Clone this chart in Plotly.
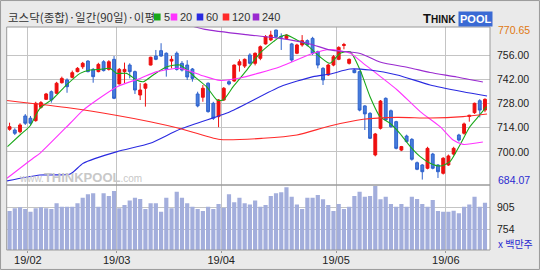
import plotly.graph_objects as go

# ---------------- data ----------------
days = list(range(92))
opens = [713.1, 712.7, 711.7, 720.8, 719.5, 718.1, 725.8, 730.4, 734.8, 733.9,
         740.0, 741.6, 743.1, 746.4, 749.2, 752.5, 747.7, 746.4, 752.1, 747.7,
         753.5, 739.3, 746.4, 750.2, 746.4, 732.9, 736.8, 750.2, 755.4, 758.5,
         757.0, 752.5, 757.0, 751.2, 750.2, 747.9, 733.5, 731.6, 739.7, 728.1,
         720.4, 730.0, 740.6, 741.0, 750.2, 749.6, 756.0, 751.2, 754.1, 762.4,
         764.7, 770.4, 766.8, 765.6, 762.4, 757.0, 761.8, 764.3, 765.6, 757.9,
         748.3, 744.5, 750.2, 753.5, 761.5, 751.2, 747.3, 746.4, 726.6, 722.3,
         698.3, 713.7, 731.0, 723.8, 717.5, 701.1, 709.2, 707.3, 693.8, 692.5,
         690.6, 698.8, 692.5, 687.7, 692.5, 698.8, 709.8, 710.8, 720.5, 722.7,
         729.6, 724.2]
highs = [716.9, 713.7, 716.6, 721.9, 720.8, 729.0, 729.4, 734.1, 735.5, 740.5,
         743.5, 742.5, 747.0, 749.0, 752.0, 753.0, 748.5, 751.5, 753.0, 753.0,
         755.4, 748.5, 751.6, 751.2, 747.0, 739.7, 740.0, 755.0, 758.9, 762.8,
         757.5, 755.4, 758.0, 752.5, 753.0, 748.5, 734.8, 738.7, 740.2, 729.0,
         730.5, 737.5, 741.5, 750.5, 753.5, 754.0, 757.0, 757.5, 761.5, 767.5,
         770.0, 770.65, 768.5, 768.0, 763.0, 762.5, 767.5, 765.0, 766.5, 758.5,
         749.0, 751.0, 756.0, 761.0, 763.0, 754.0, 748.0, 747.0, 727.0, 723.0,
         711.0, 730.0, 731.5, 724.5, 718.0, 703.5, 710.0, 708.0, 694.5, 693.0,
         703.0, 699.5, 693.0, 697.0, 698.5, 703.0, 710.5, 717.0, 721.5, 728.5,
         730.5, 731.0]
lows = [712.3, 709.8, 710.8, 715.6, 715.6, 717.5, 725.0, 730.0, 728.5, 733.5,
        739.5, 734.2, 742.5, 746.0, 748.0, 746.0, 740.0, 746.0, 746.5, 747.0,
        730.5, 739.0, 739.7, 742.5, 733.5, 730.0, 726.2, 750.0, 753.0, 755.0,
        743.5, 748.3, 747.0, 746.5, 741.6, 740.6, 725.8, 729.0, 722.7, 718.5,
        714.3, 729.5, 738.5, 740.5, 746.4, 748.5, 750.5, 750.0, 753.0, 762.0,
        764.0, 765.5, 758.9, 765.0, 752.0, 756.5, 760.8, 761.0, 756.0, 748.3,
        738.7, 744.0, 749.5, 753.0, 759.3, 750.5, 745.5, 723.5, 712.7, 707.5,
        697.5, 713.0, 718.0, 714.0, 701.5, 700.5, 705.5, 695.0, 689.5, 684.07,
        690.0, 690.0, 685.0, 687.0, 692.0, 698.0, 706.0, 710.0, 717.5, 722.0,
        720.0, 723.0]
closes = [714.6, 710.8, 715.6, 716.6, 716.6, 728.1, 728.5, 733.5, 730.0, 739.7,
          742.5, 737.7, 745.8, 748.3, 751.2, 746.4, 743.5, 750.6, 747.0, 752.1,
          731.0, 747.7, 747.7, 746.4, 735.8, 735.8, 739.3, 754.7, 753.5, 755.4,
          747.7, 753.5, 747.7, 747.3, 743.3, 742.5, 726.6, 736.8, 723.3, 719.5,
          730.0, 736.8, 739.3, 750.2, 752.1, 753.5, 751.2, 757.0, 760.8, 766.6,
          767.5, 766.6, 766.4, 767.5, 753.1, 761.8, 764.3, 761.8, 757.0, 750.2,
          741.6, 750.2, 755.0, 760.4, 762.0, 753.5, 745.8, 724.2, 722.0, 707.9,
          710.4, 729.4, 718.5, 714.6, 702.1, 703.1, 706.0, 695.8, 690.0, 688.6,
          702.1, 690.6, 688.6, 696.4, 697.7, 702.1, 706.9, 716.2, 721.2, 728.1,
          724.2, 730.4]
volumes = [878, 896, 903, 891, 873, 896, 903, 896, 891, 930,
           907, 907, 907, 930, 969, 992, 999, 907, 999, 981,
           1015, 896, 919, 949, 969, 960, 891, 930, 930, 873,
           969, 896, 1010, 969, 930, 907, 891, 878, 907, 891,
           926, 900, 992, 937, 969, 930, 923, 949, 907, 919,
           981, 999, 1006, 1040, 976, 923, 891, 969, 969, 987,
           958, 919, 878, 926, 891, 907, 981, 1010, 976, 981,
           1049, 958, 976, 926, 907, 926, 907, 976, 960, 926,
           907, 953, 878, 873, 873, 880, 862, 907, 923, 976,
           907, 935]

ma5_day = [-0.4, 2.0, 3.9, 5.8, 8.4, 10.9, 13.5, 15.4, 17.3, 19.2, 20.5, 22.4,
           24.3, 25.6, 27.5, 30.1, 32.6, 35.8, 37.7, 39.7, 40.9, 42.8, 45.4,
           47.9, 50.5, 51.8, 53.1, 55.0, 56.9, 59.4, 61.3, 63.3, 65.2, 67.1,
           69.0, 70.9, 72.8, 74.7, 76.7, 78.6, 80.5, 82.4, 84.3, 86.2, 88.1,
           90.0, 91.3]
ma5_val = [703.1, 709.8, 715.0, 725.2, 731.0, 738.7, 745.4, 747.3, 747.7, 748.3,
           745.4, 745.4, 741.6, 740.6, 744.5, 749.2, 750.2, 742.5, 737.7, 730.0,
           730.0, 737.7, 747.3, 757.0, 763.7, 766.6, 767.5, 764.7, 761.8, 755.0,
           751.2, 757.0, 757.9, 747.3, 731.9, 720.4, 716.6, 710.8, 703.1, 697.3,
           693.5, 691.9, 694.4, 704.0, 714.6, 721.4, 726.2]
ma20_day = [-0.5, 4.5, 5.8, 11.6, 14.1, 20.6, 25.0, 28.2, 32.6, 36.5, 40.3,
            44.1, 51.8, 58.1, 61.3, 65.2, 67.7, 74.2, 78.6, 82.4, 84.9, 86.8, 90.6]
ma20_val = [684.8, 696.4, 699.2, 716.6, 724.2, 737.7, 742.5, 746.4, 748.3, 744.5,
            741.3, 742.7, 749.2, 757.0, 759.2, 757.0, 751.2, 735.8, 723.3, 714.6,
            706.9, 704.4, 705.8]
ma60_day = [-0.5, 5.8, 11.6, 14.1, 20.6, 26.9, 32.6, 42.2, 51.8, 58.1, 61.3,
            65.2, 69.0, 74.2, 80.5, 86.8, 91.4]
ma60_val = [683.3, 686.7, 687.3, 693.5, 700.2, 705.0, 713.1, 723.3, 737.7, 743.5,
            745.0, 747.9, 747.3, 744.5, 738.7, 734.8, 732.3]
ma120_day = [-0.5, 11.6, 20.6, 26.9, 32.6, 40.3, 48.5, 55.0, 61.3, 67.7, 74.2,
             80.5, 86.8, 91.4]
ma120_val = [729.7, 725.4, 721.1, 717.5, 713.6, 707.2, 707.9, 709.8, 715.0, 718.9,
             720.0, 719.6, 720.4, 721.9]
ma240_day = [34.0, 37.4, 46.0, 51.8, 57.5, 61.3, 67.1, 70.9, 76.7, 80.5, 85.6, 90.6]
ma240_val = [773.5, 770.8, 767.5, 765.6, 762.4, 758.9, 756.9, 752.0, 748.5, 745.9,
             743.3, 740.4]

month_start = [4, 21, 41, 63, 84]
month_label = ['19/02', '19/03', '19/04', '19/05', '19/06']
price_ticks = [756, 742, 728, 714, 700]
vol_ticks = [905, 754]
ma_names = ['5', '20', '60', '120', '240']
ma_colors = ['#1aa81a', '#ff33ff', '#2a2ae0', '#ff2a2a', '#9a2ad0']

# ---------------- geometry helpers ----------------
W, H = 540, 270
def px(x):
    return x / W
def py(y):
    return 1 - y / H

XL, XR = 6.7, 490
PT, PB, VB = 27, 185, 250

fig = go.Figure()

fig.add_trace(go.Bar(x=days, y=volumes, marker=dict(color='#a3aedc', line=dict(width=0)),
                     xaxis='x', yaxis='y2', hoverinfo='skip'))

fig.add_trace(go.Candlestick(
    x=days, open=opens, high=highs, low=lows, close=closes,
    xaxis='x', yaxis='y',
    increasing=dict(line=dict(color='#ee0f0f', width=1), fillcolor='#ee0f0f'),
    decreasing=dict(line=dict(color='#2f62cc', width=1), fillcolor='#467ddc'),
    whiskerwidth=0, hoverinfo='skip'))

ma_sets = [(ma5_day, ma5_val), (ma20_day, ma20_val), (ma60_day, ma60_val),
           (ma120_day, ma120_val), (ma240_day, ma240_val)]
for (dx, dv), col in zip(ma_sets, ma_colors):
    fig.add_trace(go.Scatter(x=dx, y=dv, mode='lines', xaxis='x', yaxis='y',
                             line=dict(color=col, width=1.1, shape='spline', smoothing=0.6),
                             hoverinfo='skip'))

grid_pos = [m - 0.5 for m in month_start]

fig.update_layout(
    width=W, height=H, margin=dict(l=0, r=0, t=0, b=0),
    paper_bgcolor='#eaeaea', plot_bgcolor='white',
    showlegend=False, hovermode=False, bargap=0.2, boxgap=0.22,
    xaxis=dict(domain=[px(XL), px(XR)], range=[-0.55, 91.96], anchor='y2',
               tickvals=grid_pos, ticktext=month_label, showgrid=True,
               gridcolor='#c4c4c4', gridwidth=1, zeroline=False,
               ticks='outside', ticklen=2, tickcolor='#999999',
               ticklabelstandoff=-2,
               tickfont=dict(family='Liberation Sans', size=11, color='#222222'),
               rangeslider=dict(visible=False), showline=False, fixedrange=True),
    yaxis=dict(domain=[py(PB), py(PT)], range=[680.94, 772.17], anchor='x', side='right',
               tickvals=price_ticks, ticktext=['%.2f' % v for v in price_ticks],
               showgrid=True, gridcolor='#c4c4c4', zeroline=False, ticks='',
               ticklabelstandoff=6,
               tickfont=dict(family='Liberation Sans', size=10.5, color='#222222')),
    yaxis2=dict(domain=[py(VB), py(PB)], range=[610, 1056], anchor='x', side='right',
                tickvals=vol_ticks, ticktext=[str(v) for v in vol_ticks],
                showgrid=True, gridcolor='#c4c4c4', zeroline=False, ticks='',
                ticklabelstandoff=6,
                tickfont=dict(family='Liberation Sans', size=10.5, color='#222222')),
)

shapes = [
    dict(type='rect', xref='paper', yref='paper', x0=px(XL), x1=px(XR), y0=py(PB), y1=py(PT),
         line=dict(color='#9a9a9a', width=1)),
    dict(type='rect', xref='paper', yref='paper', x0=px(XL), x1=px(XR), y0=py(VB), y1=py(PB),
         line=dict(color='#9a9a9a', width=1)),
    dict(type='rect', xref='paper', yref='paper', x0=0.001, x1=0.999, y0=0.002, y1=0.998,
         line=dict(color='#9a9a9a', width=1)),
]
annotations = []

# title
annotations.append(dict(xref='paper', yref='paper', x=px(6), y=py(17), xanchor='left',
                        yanchor='middle', showarrow=False,
                        text='코스닥(종합)·일간(90일)·이평',
                        font=dict(family='Noto Sans CJK KR', size=11.5, color='#333333')))
# legend squares + labels
sq_x = [154, 170.7, 196.7, 222.7, 252.7]
for name, col, sx in zip(ma_names, ma_colors, sq_x):
    shapes.append(dict(type='rect', xref='paper', yref='paper', x0=px(sx), x1=px(sx + 6.6),
                       y0=py(20.5), y1=py(13.5), fillcolor=col, line=dict(width=0)))
    annotations.append(dict(xref='paper', yref='paper', x=px(sx + 7.5), y=py(17),
                            xanchor='left', yanchor='middle', showarrow=False, text=name,
                            font=dict(family='Liberation Sans', size=11, color='#333333')))

# logo
annotations.append(dict(xref='paper', yref='paper', x=px(458), y=py(18.5), xanchor='right',
                        yanchor='middle', showarrow=False,
                        text='<b>T<span style="font-size:10px">HINK</span></b>',
                        font=dict(family='Liberation Sans', size=13, color='#111111')))
annotations.append(dict(xref='paper', yref='paper', x=px(458), y=py(18.5), xanchor='left',
                        yanchor='middle', showarrow=False, text='<b>POOL</b>',
                        bgcolor='#3a6ad4', borderpad=1,
                        font=dict(family='Liberation Sans', size=11, color='white')))

# max / min labels on the price scale
hmax, lmin = max(highs), min(lows)
annotations.append(dict(xref='paper', yref='y', x=px(496), y=hmax, xanchor='left',
                        yanchor='middle', showarrow=False, text='%.2f' % hmax,
                        font=dict(family='Liberation Sans', size=10.5, color='#e07810')))
annotations.append(dict(xref='paper', yref='y', x=px(496), y=lmin, xanchor='left',
                        yanchor='middle', showarrow=False, text='%.2f' % lmin,
                        font=dict(family='Liberation Sans', size=10.5, color='#2a2ad0')))
# volume unit
annotations.append(dict(xref='paper', yref='paper', x=px(496), y=py(243), xanchor='left',
                        yanchor='middle', showarrow=False, text='x 백만주',
                        font=dict(family='Noto Sans CJK KR', size=10, color='#2a2ad0')))
# watermark
annotations.append(dict(xref='paper', yref='paper', x=px(80), y=py(177), xanchor='center',
                        yanchor='middle', showarrow=False,
                        text='www.<b><span style="font-size:13px">THINKPOOL</span></b>.com',
                        font=dict(family='Liberation Sans', size=10, color='#c8c8c8')))

fig.update_layout(shapes=shapes, annotations=annotations)
fig.write_html('out.html')
